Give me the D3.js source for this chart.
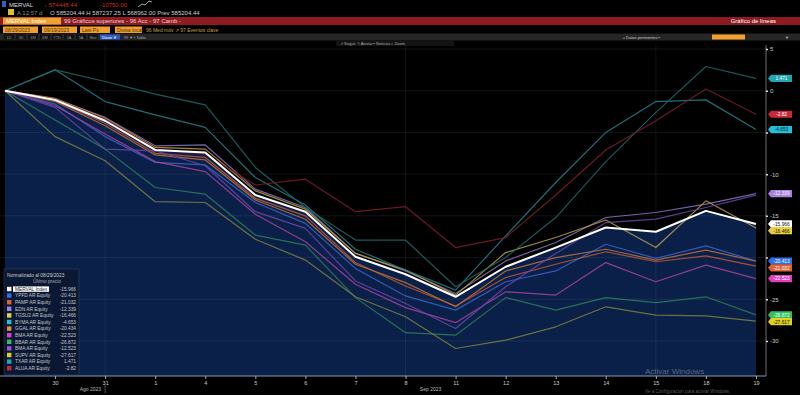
<!DOCTYPE html>
<html lang="es">
<head>
<meta charset="UTF-8">
<title>MERVAL - Gráfico de líneas</title>
<style>
    html,body{margin:0;padding:0;background:#000;}
    svg{display:block;font-family:"Liberation Sans",Arial,sans-serif;}
</style>
</head>
<body>
<div id="chart"></div>
<script src="https://d3js.org/d3.v7.min.js"></script>
<script>
// fechas (29 ago 2023 - 19 sep 2023)
const dates = ["08-29","08-30","08-31","09-01","09-04","09-05","09-06","09-07","09-08","09-11","09-12","09-13","09-14","09-15","09-18","09-19"];
const dayLabels = ["29","30","31","1","4","5","6","7","8","11","12","13","14","15","18","19"];
const yTicks = [5,0,-5,-10,-15,-20,-25,-30];

// series normalizadas (%)
const merval = [0,-1.1,-3.6,-7.1,-7.4,-12.5,-14.5,-19.9,-22.0,-24.7,-21.1,-18.8,-16.4,-16.9,-14.4,-15.966];
const ypfd   = [0,-1.6,-5.5,-8.6,-8.9,-13.4,-15.9,-21.3,-24.6,-26.3,-22.9,-21.6,-18.4,-20.1,-18.6,-20.413];
const pamp   = [0,-1.2,-3.9,-7.5,-8.0,-12.9,-15.0,-20.6,-23.4,-25.8,-22.4,-20.8,-19.3,-20.5,-19.8,-21.032];
const edn    = [0,-1.0,-3.2,-6.6,-6.5,-11.8,-14.0,-19.5,-21.6,-24.3,-20.4,-18.2,-15.2,-14.6,-13.6,-12.339];
const tgsu2  = [0,-0.9,-3.3,-6.8,-7.0,-12.0,-14.2,-19.5,-21.5,-24.5,-19.4,-17.6,-15.5,-18.8,-13.2,-16.466];
const byma   = [0,2.5,-1.3,-2.9,-4.4,-10.4,-13.7,-19.0,-21.5,-23.9,-17.4,-11.0,-5.0,-1.3,-1.1,-4.653];
const ggal   = [0,-1.3,-4.2,-7.7,-8.3,-13.1,-15.4,-20.8,-23.0,-25.9,-21.6,-20.0,-19.0,-20.3,-19.1,-20.434];
const bma    = [0,-1.8,-5.2,-8.5,-9.7,-14.8,-18.1,-23.2,-26.0,-27.8,-24.1,-24.5,-20.6,-22.9,-20.9,-22.523];
const bbar   = [0,-3.5,-7.0,-11.6,-12.4,-17.3,-18.5,-24.8,-29.0,-29.3,-24.8,-26.3,-24.8,-25.4,-24.7,-26.872];
const bma2   = [0,-2.0,-7.0,-7.2,-9.0,-14.5,-16.5,-22.8,-25.5,-28.5,-23.5,-19.5,-15.8,-15.4,-14.0,-12.523];
const supv   = [0,-5.5,-8.4,-13.3,-13.4,-17.8,-20.3,-24.7,-27.1,-30.9,-29.9,-28.3,-25.9,-26.9,-27.0,-27.617];
const txar   = [0,2.5,1.1,-0.4,-1.7,-9.2,-14.0,-17.9,-17.9,-23.5,-20.0,-15.2,-8.5,-2.6,2.9,1.471];
const alua   = [0,-1.0,-3.4,-7.0,-7.6,-11.3,-10.6,-14.5,-13.9,-18.8,-17.6,-12.5,-7.1,-3.6,0.2,-2.82];

const names  = ["MERVAL Index","YPFD AR Equity","PAMP AR Equity","EDN AR Equity","TGSU2 AR Equity","BYMA AR Equity","GGAL AR Equity","BMA AR Equity","BBAR AR Equity","BMA AR Equity","SUPV AR Equity","TXAR AR Equity","ALUA AR Equity"];
const lastVals = ["-15.966","-20.413","-21.032","-12.339","-16.466","-4.653","-20.434","-22.523","-26.872","-12.523","-27.617","1.471","-2.82"];
const values = [merval,ypfd,pamp,edn,tgsu2,byma,ggal,bma,bbar,bma2,supv,txar,alua];
const lineColors = ["#ffffff","#3b64c8","#c2563a","#8a72c0","#b8a048","#23838a","#b8743a","#a8449a","#2f7d5a","#6c46a8","#7e8040","#1e6a68","#7c1d2c"];
const tagColors  = ["#ffffff","#2f6fe8","#e0603a","#a880e0","#e8d040","#20c0d8","#e09040","#e040c0","#30c060","#a050e0","#e0d020","#20a8b0","#c8283c"];

const W = 800, H = 395;
const svg = d3.select("#chart").append("svg").attr("width", W).attr("height", H);
svg.append("rect").attr("width", W).attr("height", H).attr("fill", "#000");

const x = d3.scalePoint().domain(dates).range([5, 756]);
const y = d3.scaleLinear().domain([-30, 5]).range([341, 49]);
const plotTop = 45, plotBottom = 376, axisX = 766;

// ---------- barra superior ----------
const header = svg.append("g").attr("font-size", 6);
header.append("rect").attr("x", 2).attr("y", 1).attr("width", 4).attr("height", 6).attr("fill", "#2f62c0");
header.append("text").attr("x", 9).attr("y", 6.5).attr("fill", "#ddd").text("MERVAL");
header.append("text").attr("x", 44).attr("y", 6.5).attr("fill", "#d02828").text("↓ 574448.44");
header.append("text").attr("x", 100).attr("y", 6.5).attr("fill", "#d02828").text("-10750.00");
header.append("path").attr("d", "M138,7 L142,4 L145,5 L149,1 L152,2").attr("stroke", "#ccc").attr("fill", "none").attr("stroke-width", 0.8);

header.append("rect").attr("x", 8).attr("y", 9).attr("width", 6).attr("height", 6).attr("fill", "#e0c020");
header.append("text").attr("x", 17).attr("y", 14.5).attr("fill", "#888").text("A  12:57 d");
header.append("text").attr("x", 50).attr("y", 14.5).attr("fill", "#ccc")
    .text("O 585204.44   H 587237.25   L 568962.00   Prev 585204.44");

header.append("rect").attr("x", 0).attr("y", 17).attr("width", W).attr("height", 8).attr("fill", "#8c1c22");
header.append("rect").attr("x", 3).attr("y", 17.5).attr("width", 58).attr("height", 7).attr("fill", "#f0a030");
header.append("text").attr("x", 6).attr("y", 23).attr("fill", "#fff").text("MERVAL Index");
header.append("text").attr("x", 64).attr("y", 23).attr("fill", "#f4d0d0").text("99 Gráficos superiores  -     96 Acc  -     97 Camb  -");
header.append("text").attr("x", 776).attr("y", 23).attr("text-anchor", "end").attr("fill", "#fff").text("Gráfico de líneas");

const oBoxes = [[3,35,"08/29/2023"],[42,35,"09/19/2023"],[80,30,"Last Px"],[115,27,"Divisa local"]];
oBoxes.forEach(b => {
    header.append("rect").attr("x", b[0]).attr("y", 26.5).attr("width", b[1]).attr("height", 6.5).attr("fill", "#f0a030");
    header.append("text").attr("x", b[0] + 2).attr("y", 31.8).attr("fill", "#5a3000").attr("font-size", 5).text(b[2]);
});
header.append("text").attr("x", 146).attr("y", 31.8).attr("fill", "#c8a040").attr("font-size", 5).text("96 Med móv  ↗     97 Eventos clave");

header.append("rect").attr("x", 0).attr("y", 33.5).attr("width", W).attr("height", 7).attr("fill", "#262626");
["1D","3D","1M","6M","YTD","1A","5A","Máx"].forEach((t, i) => {
    header.append("rect").attr("x", 4 + i * 12).attr("y", 34.5).attr("width", 10).attr("height", 5).attr("fill", "#111");
    header.append("text").attr("x", 9 + i * 12).attr("y", 38.6).attr("text-anchor", "middle").attr("fill", "#999").attr("font-size", 3.8).text(t);
});
header.append("rect").attr("x", 100).attr("y", 34.5).attr("width", 20).attr("height", 5).attr("fill", "#2a5cc8");
header.append("text").attr("x", 102).attr("y", 38.6).attr("fill", "#fff").attr("font-size", 3.8).text("Diario ▼");
header.append("text").attr("x", 124).attr("y", 38.6).attr("fill", "#aaa").attr("font-size", 3.8).text("99  ▼   ▪   Tabla");
header.append("text").attr("x", 660).attr("y", 38.6).attr("text-anchor", "end").attr("fill", "#ccc").attr("font-size", 4).text("+ Datos pertinentes  ▪");
header.append("rect").attr("x", 712).attr("y", 34.5).attr("width", 33).attr("height", 5).attr("fill", "#f0a030");
header.append("text").attr("x", 785).attr("y", 38.6).attr("fill", "#ccc").attr("font-size", 4).text("▼");
header.append("rect").attr("x", 336).attr("y", 41).attr("width", 118).attr("height", 5).attr("fill", "#141414");
header.append("text").attr("x", 340).attr("y", 45).attr("fill", "#aaa").attr("font-size", 4).text("↗ Seguir   ✎ Anotar   ▪ Noticias   ⌕ Zoom");

// ---------- area del MERVAL ----------
const area = d3.area().x((d, i) => x(dates[i])).y0(plotBottom).y1(d => y(d));
svg.append("path").datum(merval).attr("d", area).attr("fill", "#0b2048");

// rejilla
svg.append("g").selectAll("line").data(yTicks).join("line")
    .attr("x1", 0).attr("x2", axisX).attr("y1", d => y(d)).attr("y2", d => y(d))
    .attr("stroke", "#7890b0").attr("stroke-opacity", 0.18).attr("stroke-width", 0.8);
svg.append("g").selectAll("line").data(["08-31","09-08","09-15"]).join("line")
    .attr("x1", d => x(d)).attr("x2", d => x(d)).attr("y1", plotTop).attr("y2", plotBottom)
    .attr("stroke", "#7890b0").attr("stroke-opacity", 0.15).attr("stroke-width", 0.8);

// ---------- lineas ----------
const line = d3.line().x((d, i) => x(dates[i])).y(d => y(d));
const order = d3.range(1, values.length).concat([0]);
svg.append("g").selectAll("path").data(order).join("path")
    .attr("d", k => line(values[k]))
    .attr("fill", "none")
    .attr("stroke", k => lineColors[k])
    .attr("stroke-width", k => k === 0 ? 2 : 1.2)
    .attr("stroke-opacity", k => k === 0 ? 1 : 0.85)
    .attr("stroke-linejoin", "round");

// ---------- etiquetas de ultimo valor (posiciones) ----------
const tags = values.map((v, k) => ({k, y: y(v[v.length - 1])}))
    .sort((a, b) => a.y - b.y);
let prevY = -100;
const shown = [];
tags.forEach(t => {
    if (Math.abs(t.y - prevY) < 2) return;
    let ty = Math.max(t.y, prevY + 6.8);
    shown.push({k: t.k, y: ty});
    prevY = ty;
});

// ---------- ejes ----------
svg.append("line").attr("x1", 0).attr("x2", axisX).attr("y1", plotBottom).attr("y2", plotBottom)
    .attr("stroke", "#8a9ab8").attr("stroke-width", 1.2);
svg.append("line").attr("x1", axisX).attr("x2", axisX).attr("y1", plotTop).attr("y2", plotBottom)
    .attr("stroke", "#8a8a8a").attr("stroke-width", 0.8);

const yAxis = svg.append("g").attr("transform", `translate(${axisX},0)`)
    .call(d3.axisRight(y).tickValues(yTicks).tickSize(2).tickFormat(d => String(d)));
yAxis.select(".domain").remove();
yAxis.selectAll("line").attr("stroke", "#ddd").attr("stroke-width", 1.5);
yAxis.selectAll("text").attr("fill", "#ccc").attr("font-size", 6).attr("x", 4);
// las etiquetas de valor tapan algunas marcas del eje
yAxis.selectAll(".tick").filter(d => shown.some(s => Math.abs(s.y - y(d)) < 6)).select("text").remove();

const xAxis = svg.append("g").attr("transform", `translate(0,${plotBottom})`)
    .call(d3.axisBottom(x).tickValues(dates.slice(1)).tickSize(3).tickFormat((d) => dayLabels[dates.indexOf(d)]));
xAxis.select(".domain").remove();
xAxis.selectAll("line").attr("stroke", "#aaa");
xAxis.selectAll("text").attr("fill", "#ccc").attr("font-size", 5.5).attr("y", 5);

svg.append("text").attr("x", x("08-31") - 4).attr("y", 391).attr("text-anchor", "end")
    .attr("fill", "#bbb").attr("font-size", 5).text("Ago 2023");
svg.append("line").attr("x1", x("08-31")).attr("x2", x("08-31")).attr("y1", 385).attr("y2", 393).attr("stroke", "#888").attr("stroke-width", 0.6);
svg.append("text").attr("x", (x("09-08") + x("09-11")) / 2).attr("y", 391).attr("text-anchor", "middle")
    .attr("fill", "#bbb").attr("font-size", 5).text("Sep 2023");

const tagG = svg.append("g").selectAll("g").data(shown).join("g")
    .attr("transform", d => `translate(${axisX + 2},${d.y})`);
tagG.append("path").attr("d", "M0,0 L3,-3.6 L24,-3.6 L24,3.6 L3,3.6 Z").attr("fill", d => tagColors[d.k]);
tagG.append("text").attr("x", 13.5).attr("y", 1.8).attr("text-anchor", "middle").attr("font-size", 4.8)
    .attr("fill", d => (d.k === 0 || d.k === 4 || d.k === 10 || d.k === 5) ? "#111" : "#fff")
    .text(d => lastVals[d.k]);

// ---------- leyenda ----------
const leg = svg.append("g");
leg.append("rect").attr("x", 4).attr("y", 269).attr("width", 75).attr("height", 106)
    .attr("fill", "#0a1830").attr("fill-opacity", 0.85).attr("stroke", "#33445e").attr("stroke-width", 0.6);
leg.append("text").attr("x", 7).attr("y", 276.5).attr("fill", "#ccc").attr("font-size", 4.8).text("Normalizado al 08/29/2023");
leg.append("text").attr("x", 47).attr("y", 283).attr("text-anchor", "middle").attr("fill", "#aaa").attr("font-size", 4.8).text("Último precio");
const rows = leg.selectAll("g.row").data(names).join("g").attr("class", "row")
    .attr("transform", (d, i) => `translate(0,${289 + i * 6.6})`);
rows.append("rect").attr("x", 7).attr("y", -2.2).attr("width", 4.4).attr("height", 4.4).attr("fill", (d, i) => tagColors[i]);
rows.filter((d, i) => i === 0).append("rect").attr("x", 13).attr("y", -2.6).attr("width", 36).attr("height", 5.4).attr("fill", "#fff");
rows.append("text").attr("x", 15).attr("y", 1.8).attr("font-size", 4.8)
    .attr("fill", (d, i) => i === 0 ? "#222" : "#c8c8c8").text(d => d);
rows.append("text").attr("x", 76).attr("y", 1.8).attr("text-anchor", "end").attr("font-size", 4.8)
    .attr("fill", "#c8c8c8").text((d, i) => lastVals[i]);

// marca de agua
svg.append("text").attr("x", 645).attr("y", 374).attr("fill", "#9a9a9a").attr("fill-opacity", 0.6).attr("font-size", 8).text("Activar Windows");
svg.append("text").attr("x", 645).attr("y", 392.5).attr("fill", "#9a9a9a").attr("fill-opacity", 0.6).attr("font-size", 4.6).text("Ve a Configuración para activar Windows.");
</script>
</body>
</html>
